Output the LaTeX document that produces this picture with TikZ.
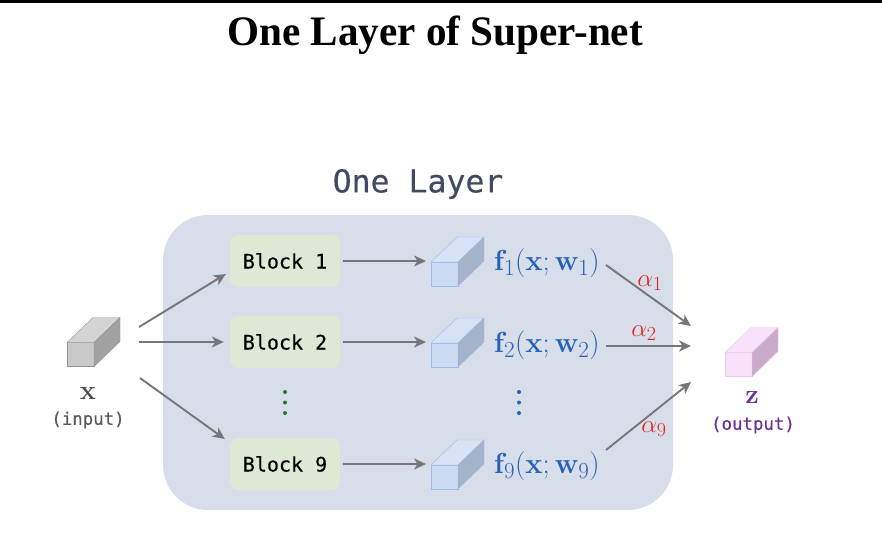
\documentclass[tikz,border=0pt]{standalone}
\usepackage{fix-cm}
\usepackage[no-math]{fontspec}
\usepackage{amsmath,amssymb}
\usepackage{xcolor}
\usetikzlibrary{positioning, arrows.meta, calc}
\setmonofont{DejaVu Sans Mono}
\newfontfamily\titlefont{Liberation Serif}
\newfontfamily\monomid[FakeBold=0.3]{DejaVu Sans Mono}
\DeclareMathSizes{29}{29}{23}{18}
\DeclareMathSizes{25}{25}{20}{16}
\definecolor{cPanel}{RGB}{216,222,233}
\definecolor{cBlock}{RGB}{221,233,213}
\definecolor{cFlow}{RGB}{118,118,122}
\definecolor{cHead}{RGB}{66,74,98}
\definecolor{cF}{RGB}{38,98,184}
\definecolor{cDots}{RGB}{50,110,50}
\definecolor{cAlpha}{RGB}{222,40,30}
\definecolor{cZ}{RGB}{106,48,154}
\definecolor{cBlueEdge}{RGB}{158,186,226}
\definecolor{cBlueFront}{RGB}{203,219,244}
\definecolor{cBlueTop}{RGB}{214,227,247}
\definecolor{cBlueSide}{RGB}{165,179,202}
\definecolor{cPinkEdge}{RGB}{238,196,240}
\definecolor{cPinkFront}{RGB}{248,226,249}
\definecolor{cPinkSide}{RGB}{202,170,204}
\tikzset{
    blockbox/.style={fill=cBlock, rounded corners=8pt, minimum width=110pt, minimum height=52pt,
        font=\monomid\fontsize{20}{24}\selectfont, text=black},
    cubeface/.style={draw, minimum width=27pt, minimum height=24pt, inner sep=0pt, outer sep=0pt},
    flow/.style={draw=cFlow, line width=1.9pt, -{Stealth[length=12pt, width=11pt, inset=3.5pt]}},
    flabel/.style={text=cF, font=\fontsize{29}{32}\selectfont, anchor=west, inner sep=0pt},
    alab/.style={text=cAlpha, font=\fontsize{25}{28}\selectfont, inner sep=0pt},
    smalllab/.style={font=\monomid\fontsize{17.4}{20}\selectfont, inner sep=0pt},
}
% top and side of a box, drawn from its front face
\newcommand{\cubeback}[4]{
    \filldraw[draw=#2, fill=#3] (#1.north west) -- ++(26,25) -- ++(27,0) -- (#1.north east) -- cycle;
    \filldraw[draw=#2, fill=#4] (#1.north east) -- ++(26,25) -- ++(0,-24) -- (#1.south east) -- cycle;
}
\begin{document}
\begin{tikzpicture}[x=1pt, y=1pt, node distance=81pt, on grid]
    \useasboundingbox (0,-533) rectangle (882,0);
    \fill[black] (0,-3) rectangle (882,0);

    \node[font=\titlefont\bfseries\fontsize{42}{46}\selectfont, xscale=0.98] (title) at (435,-35) {One Layer of Super-net};
    \node[font=\monomid\fontsize{31.5}{36}\selectfont, text=cHead] (head) at (418,-184) {One Layer};
    \node[fill=cPanel, rounded corners=45pt, minimum width=510pt, minimum height=295pt] (panel) at (418,-362.5) {};

    % blocks
    \node[blockbox] (B1) at (285,-261) {Block 1};
    \node[blockbox, below=of B1] (B2) {Block 2};
    \node[blockbox, below=122pt of B2] (B9) {Block 9};

    % boxes
    \node[cubeface, draw=black!42, fill=black!21] (X) at (80.5,-354.5) {};
    \cubeback{X}{black!42}{black!17}{black!37}
    \foreach \i in {1, 2, 9} {
        \node[cubeface, draw=cBlueEdge, fill=cBlueFront] (C\i) at ($(B\i.center)+(159.5,-13)$) {};
        \cubeback{C\i}{cBlueEdge}{cBlueTop}{cBlueSide}
    }
    \node[cubeface, draw=cPinkEdge, fill=cPinkFront] (Z) at (738.5,-364.5) {};
    \cubeback{Z}{cPinkEdge}{cPinkFront}{cPinkSide}

    % labels
    \node[flabel] (F1) at (494,-263) {$\mathbf{f}_1(\mathbf{x};\mathbf{w}_1)$};
    \node[flabel] (F2) at (494,-345) {$\mathbf{f}_2(\mathbf{x};\mathbf{w}_2)$};
    \node[flabel] (F9) at (494,-466) {$\mathbf{f}_9(\mathbf{x};\mathbf{w}_9)$};
    \node[font=\fontsize{27}{30}\selectfont, text=black!70] (xname) at (88,-393) {$\mathbf{x}$};
    \node[smalllab, text=black!65] (xnote) at (88,-420) {(input)};
    \node[font=\fontsize{27}{30}\selectfont, text=cZ] (zname) at (752,-397) {$\mathbf{z}$};
    \node[smalllab, text=cZ] (znote) at (753,-425) {(output)};
    \node[alab] (a1) at (650,-283) {$\alpha_1$};
    \node[alab] (a2) at (644,-333) {$\alpha_2$};
    \node[alab] (a9) at (654,-429) {$\alpha_9$};

    % free ends of the arrows
    \coordinate (in1) at (139,-327);
    \coordinate (in2) at (139,-342);
    \coordinate (in9) at (140,-378);
    \coordinate (out1) at (606,-265);
    \coordinate (out2) at (606,-346);
    \coordinate (out9) at (606,-450);
    \coordinate (mrg1) at (691,-326);
    \coordinate (mrg2) at (691,-346);
    \coordinate (mrg9) at (691,-382);

    \draw[flow] (in1) -- ($(B1.west)+(-4,-13)$);
    \draw[flow] (in2) -- ($(B2.west)+(-6,0)$);
    \draw[flow] (in9) -- ($(B9.west)+(-5,25)$);
    \foreach \i in {1, 2, 9} {
        \draw[flow, shorten <=3pt] (B\i.east) -- ($(B\i.east -| C\i.west)+(-5,0)$);
    }
    \draw[flow] (out1) -- (mrg1);
    \draw[flow] (out2) -- (mrg2);
    \draw[flow] (out9) -- (mrg9);

    % dots
    \foreach \y in {392, 402.5, 413} {
        \fill[cDots] (285,-\y) circle (2pt);
        \fill[cF] (519,-\y) circle (2pt);
    }
\end{tikzpicture}
\end{document}
